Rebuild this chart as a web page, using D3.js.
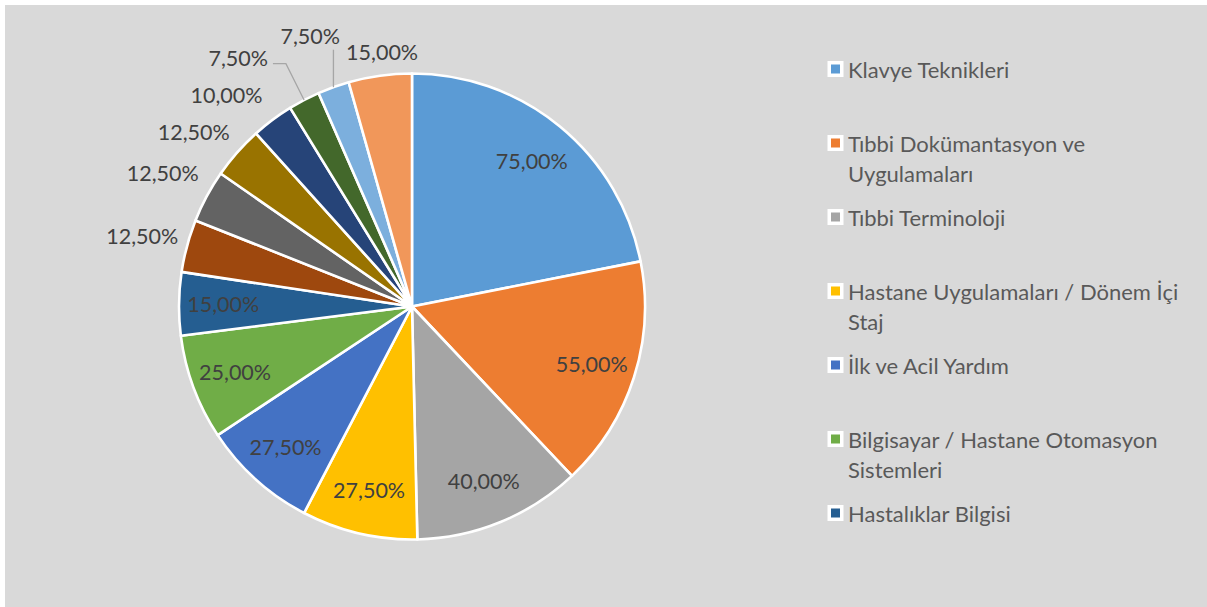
<!DOCTYPE html>
<html><head><meta charset="utf-8">
<script src="https://cdn.jsdelivr.net/npm/d3@7"></script>
<style>html,body{margin:0;padding:0;background:#fff;} svg{display:block}</style>
</head><body>
<svg id="chart" width="1207" height="607"></svg>
<script>
// ---- data ----
const categories = [
  "Klavye Teknikleri",
  "Tıbbi Dokümantasyon ve Uygulamaları",
  "Tıbbi Terminoloji",
  "Hastane Uygulamaları / Dönem İçi Staj",
  "İlk ve Acil Yardım",
  "Bilgisayar / Hastane Otomasyon Sistemleri",
  "Hastalıklar Bilgisi",
  "Kategori 8",
  "Kategori 9",
  "Kategori 10",
  "Kategori 11",
  "Kategori 12",
  "Kategori 13",
  "Kategori 14"
];
const values = [75, 55, 40, 27.5, 27.5, 25, 15, 12.5, 12.5, 12.5, 10, 7.5, 7.5, 15];
const colors = ["#5B9BD5","#ED7D31","#A5A5A5","#FFC000","#4472C4","#70AD47","#255E91",
                "#9E480E","#636363","#997300","#264478","#43682B","#7CAFDD","#F1975A"];
const legendCount = 7; // the legend in the original is cut off after 7 entries

// ---- layout ----
const W = 1207, H = 607;
const cx = 412, cy = 306.5, r = 233;
const insideCount = 7;
const insideRadius = 0.81 * r;
const outsideGap = 13;
const outsideLabelNudge = {7:[4,3], 9:[-8,11], 10:[-20,10], 11:[-49,-10], 12:[-12,-20], 13:[6,5]};
const leaderIdx = new Set([11, 12]);
const FONT = "Lato, 'Open Sans', sans-serif";
const labelFontSize = 21.5;
const legendFontSize = 22;

const locale = d3.formatLocale({decimal: ",", thousands: ".", grouping: [3], currency: ["", ""]});
const fmt = v => locale.format(".2f")(v) + "%";

const svg = d3.select("#chart");
svg.append("rect").attr("x", 5).attr("y", 5).attr("width", W - 5).attr("height", H - 5).attr("fill", "#D9D9D9");

const data = categories.map((c, i) => ({cat: c, value: values[i], color: colors[i], i}));
const pie = d3.pie().value(d => d.value).sort(null);
const arcs = pie(data);
const arc = d3.arc().innerRadius(0).outerRadius(r);

const g = svg.append("g").attr("transform", `translate(${cx},${cy})`);
g.selectAll("path.slice").data(arcs).join("path")
  .attr("class", "slice")
  .attr("d", arc)
  .attr("fill", d => d.data.color)
  .attr("stroke", "#fff")
  .attr("stroke-width", 2.6)
  .attr("stroke-linejoin", "round");

// labels
const lg = g.append("g");
arcs.forEach(a => {
  const i = a.data.i;
  const mid = (a.startAngle + a.endAngle) / 2;
  const s = Math.sin(mid), c = Math.cos(mid);
  const t = lg.append("text")
    .attr("font-family", FONT).attr("font-size", labelFontSize)
    .attr("fill", "#404040")
    .attr("text-anchor", "middle")
    .attr("dominant-baseline", "central")
    .text(fmt(a.data.value));
  if (i < insideCount) {
    t.attr("x", insideRadius * s).attr("y", -insideRadius * c);
  } else {
    const bb = t.node().getBBox();
    const w = bb.width, h = 22;
    const rr = r + outsideGap + (w / 2) * Math.abs(s) + (h / 2) * Math.abs(c);
    const nd = outsideLabelNudge[i] || [0, 0];
    const lx = rr * s + nd[0], ly = -rr * c + nd[1];
    t.attr("x", lx).attr("y", ly);
    if (leaderIdx.has(i)) {
      const ax = r * s, ay = -r * c;
      const left = lx - w / 2, right = lx + w / 2;
      let pts;
      if (ax >= left && ax <= right) {
        pts = [[ax, ly + h / 2 + 3], [ax, ay]];
      } else {
        pts = [[right + 5, ly + 6], [right + 18, ly + 6], [ax, ay]];
      }
      lg.append("path")
        .attr("d", d3.line()(pts))
        .attr("fill", "none")
        .attr("stroke", "#A6A6A6")
        .attr("stroke-width", 1.3);
    }
  }
});

// legend
const legX = 828, legY0 = 69, slot = 74, lineH = 29.5, maxW = 350;
const leg = svg.append("g");
data.slice(0, legendCount).forEach((d, k) => {
  const y = legY0 + k * slot;
  leg.append("rect").attr("x", legX - 0.5).attr("y", y - 8).attr("width", 16).attr("height", 16).attr("fill", "#fff");
  leg.append("rect").attr("x", legX + 3).attr("y", y - 4.5).attr("width", 9).attr("height", 9).attr("fill", d.color);
  const t = leg.append("text")
    .attr("font-family", FONT).attr("font-size", legendFontSize)
    .attr("fill", "#595959")
    .attr("dominant-baseline", "central");
  const words = d.cat.split(" ");
  let line = [], lineNo = 0;
  let ts = t.append("tspan").attr("x", legX + 20).attr("y", y);
  words.forEach(wd => {
    line.push(wd);
    ts.text(line.join(" "));
    if (ts.node().getComputedTextLength() > maxW && line.length > 1) {
      line.pop();
      ts.text(line.join(" "));
      line = [wd];
      lineNo++;
      ts = t.append("tspan").attr("x", legX + 20).attr("y", y + lineNo * lineH).text(wd);
    }
  });
});
</script>
</body></html>
